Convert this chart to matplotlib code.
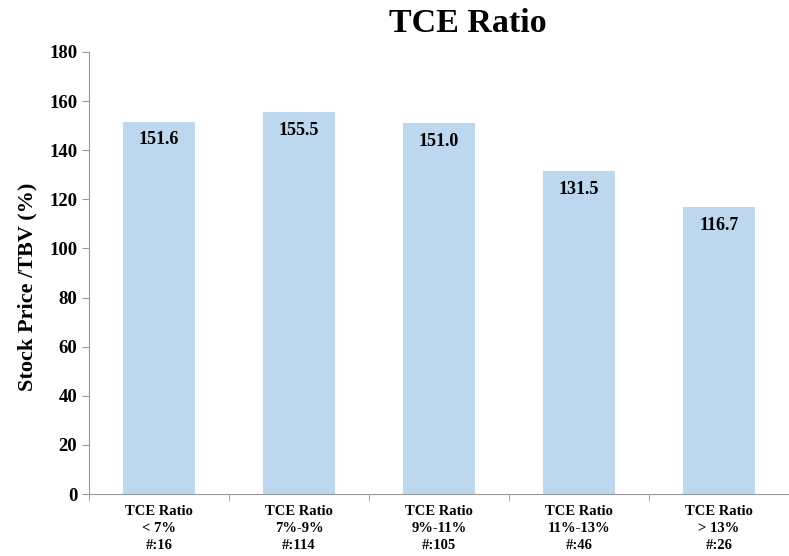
import matplotlib
matplotlib.use("Agg")
import matplotlib.pyplot as plt
import numpy as np

# Data
categories = ["TCE Ratio\n< 7%\n#:16", "TCE Ratio\n7%-9%\n#:114", "TCE Ratio\n9%-11%\n#:105",
              "TCE Ratio\n11%-13%\n#:46", "TCE Ratio\n> 13%\n#:26"]
values = [151.6, 155.5, 151.0, 131.5, 116.7]
yticks = [0, 20, 40, 60, 80, 100, 120, 140, 160, 180]

plt.rcParams['font.family'] = ['Liberation Serif', 'DejaVu Serif']
plt.rcParams['font.weight'] = 'bold'

fig = plt.figure(figsize=(7.89, 5.56), dpi=100)
ax = fig.add_axes([0.1128, 0.1115, 0.8872, 0.795])

x = np.arange(len(values))
bars = ax.bar(x, values, width=0.51, color="#BDD7EE")

for b, v in zip(bars, values):
    ax.annotate(f"{v:.1f}", (b.get_x() + b.get_width() / 2, v), xytext=(0, -13),
                textcoords="offset points", ha="center", va="center",
                fontsize=13, fontweight="bold")

ax.set_ylim(0, 180)
ax.set_yticks(yticks)
ax.set_xlim(-0.5, 4.437)

# category labels centred, ticks at category boundaries
ax.set_xticks(x)
ax.set_xticklabels(categories, fontsize=10.5, fontweight="bold", linespacing=1.38)
ax.tick_params(axis="x", length=0, pad=8)
ax.set_xticks(np.arange(-0.5, 5, 1), minor=True)
ax.tick_params(axis="x", which="minor", length=5, color="#999999", direction="out")
ax.tick_params(axis="y", length=5, color="#999999", labelsize=13.5, direction="out")
for lbl in ax.get_yticklabels():
    lbl.set_fontweight("bold")

for s in ["top", "right"]:
    ax.spines[s].set_visible(False)
for s in ["left", "bottom"]:
    ax.spines[s].set_color("#999999")

ax.set_ylabel("Stock Price /TBV (%)", fontsize=16, fontweight="bold")
ax.yaxis.set_label_coords(-0.074, 0.468)
fig.text(0.593, 0.957, "TCE Ratio", ha="center", va="center", fontsize=24.5, fontweight="bold")

fig.savefig("out.png", dpi=100)
